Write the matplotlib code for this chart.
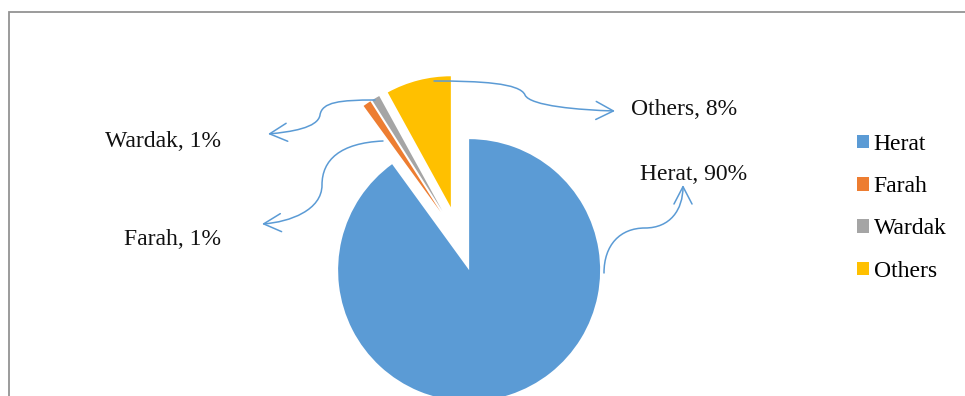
import matplotlib
matplotlib.use("Agg")
import matplotlib.pyplot as plt
from matplotlib.path import Path
from matplotlib.patches import FancyArrowPatch, Rectangle

# ---- data ----
categories = ["Herat", "Farah", "Wardak", "Others"]
values = [90, 1, 1, 8]
label_texts = ["Herat, 90%", "Farah, 1%", "Wardak, 1%", "Others, 8%"]
colors = ["#5B9BD5", "#ED7D31", "#A5A5A5", "#FFC000"]

W, H = 965, 396
plt.rcParams['font.family'] = ['Liberation Serif', 'DejaVu Serif']

fig = plt.figure(figsize=(W / 100, H / 100), dpi=100)
ax = fig.add_axes([0, 0, 1, 1])


def P(x, y):
    """image pixel coords -> axes coords (y up)"""
    return (x, H - y)


radius = 131
cx, cy = P(459, 239)
explode_frac = 0.25
wedges, _ = ax.pie(values, radius=radius, center=(cx, cy), startangle=90,
                   counterclock=False,
                   explode=[explode_frac * radius] * len(values),
                   colors=colors, frame=True,
                   wedgeprops=dict(linewidth=0))
ax.set_xlim(0, W)
ax.set_ylim(0, H)
ax.set_aspect('equal')
ax.axis('off')

# chart frame
ax.add_patch(Rectangle(P(8.7, 420), 1000, 420 - 11.5, fill=False,
                       edgecolor="#939393", linewidth=1.3, clip_on=False))

# data labels
label_pos = {
    "Herat": (640, 180),
    "Farah": (124, 245),
    "Wardak": (105, 146.7),
    "Others": (631, 115),
}
for cat, txt in zip(categories, label_texts):
    x, y = label_pos[cat]
    ax.text(*P(x, y), txt, fontsize=17, ha='left', va='baseline', color='#111111')

# curved connector arrows
connectors = [
    [(434, 81), (480, 81), (520, 83), (525, 95), (530, 106), (580, 110), (615, 111)],
    [(604, 273), (604, 245), (620, 228), (645, 228), (670, 228), (683, 210), (683, 185)],
    [(375, 100), (340, 100), (322, 102), (320, 115), (318, 128), (290, 132), (268, 134)],
    [(383, 141), (340, 143), (322, 160), (322, 185), (322, 210), (290, 222), (262, 224)],
]
for pts in connectors:
    verts = [P(x, y) for x, y in pts]
    codes = [Path.MOVETO] + [Path.CURVE4] * 6
    arr = FancyArrowPatch(path=Path(verts, codes),
                          arrowstyle="->,head_length=1.25,head_width=0.65",
                          mutation_scale=10, color="#5B9BD5", linewidth=1.1)
    ax.add_patch(arr)

# legend
fs = 17
leg = ax.legend(wedges, categories, loc='upper left',
                bbox_to_anchor=(857 / W, 1 - 134 / H), bbox_transform=fig.transFigure,
                frameon=False, fontsize=fs, handlelength=0.5, handleheight=0.5,
                handletextpad=0.2, labelspacing=0.9, borderpad=0, borderaxespad=0)

fig.savefig("out.png", dpi=100, facecolor="white")
